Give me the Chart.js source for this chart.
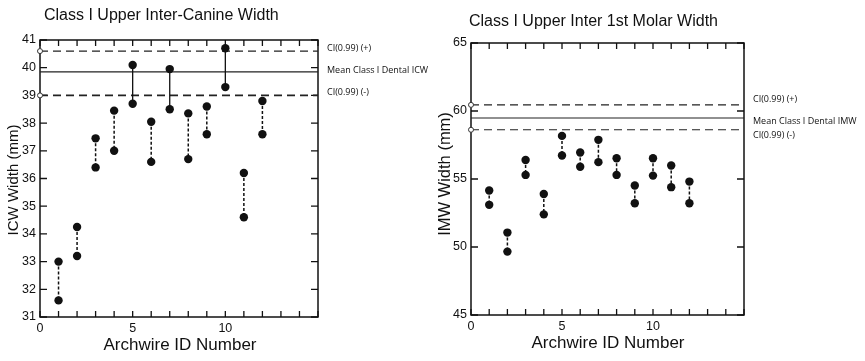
<!DOCTYPE html>
<html><head><meta charset="utf-8">
<script src="https://cdn.jsdelivr.net/npm/chart.js@4/dist/chart.umd.min.js"></script>
<style>
html,body{margin:0;padding:0;background:#fff;}
#wrap{position:relative;width:865px;height:361px;overflow:hidden;}
#c1{position:absolute;left:0;top:0;}
#c2{position:absolute;left:430px;top:0;}
</style></head>
<body><div id="wrap"><canvas id="c1" width="430" height="361"></canvas><canvas id="c2" width="435" height="361"></canvas></div>
<script>
// ---- data ----
const archwireIds = [1,2,3,4,5,6,7,8,9,10,11,12];
const icwUpper = [33.0,34.25,37.45,38.45,40.1,38.05,39.95,38.35,38.6,40.7,36.2,38.8];
const icwLower = [31.6,33.2,36.4,37.0,38.7,36.6,38.5,36.7,37.6,39.3,34.6,37.6];
const icwRef = [40.6, 39.85, 39.0];           // CI+, mean, CI-
const imwUpper = [54.15,51.06,56.4,53.9,58.17,56.95,57.88,56.53,54.52,56.53,55.99,54.81];
const imwLower = [53.1,49.66,55.3,52.4,56.73,55.9,56.24,55.3,53.22,55.25,54.4,53.22];
const imwRef = [60.45, 59.48, 58.62];
const xTickLabels = [0,5,10];
const icwRefLabels = ['CI(0.99) (+)','Mean Class I Dental ICW','CI(0.99) (-)'];
const imwRefLabels = ['CI(0.99) (+)','Mean Class I Dental IMW','CI(0.99) (-)'];
const titles = ['Class I Upper Inter-Canine Width','Class I Upper Inter 1st Molar Width'];
const yTitles = ['ICW Width (mm)','IMW Width (mm)'];
const xTitle = 'Archwire ID Number';

const FONT = "'Liberation Sans', Arial, sans-serif";

function build(canvasId, upper, lower, ref, refLabels, cfg){
  const datasets = [];
  archwireIds.forEach((id,i)=>{
    const solid = upper[i] > ref[2];
    datasets.push({
      data:[{x:id,y:upper[i]},{x:id,y:lower[i]}],
      showLine:true, borderColor:'#111', borderWidth: solid?1.3:1.5,
      borderDash: solid?[]:[3,2],
      pointRadius:4.2, pointBackgroundColor:'#111', pointBorderColor:'#111', pointBorderWidth:0,
      clip:false
    });
  });
  ref.forEach((v,k)=>{
    datasets.push({
      data:[{x:0,y:v},{x:cfg.xmax,y:v}],
      showLine:true, borderColor:'#222', borderWidth: k===1?1.1:cfg.ciWidth[k],
      borderDash: k===1?[]:[8,5],
      pointRadius:[k===1?0:2.5,0], pointBackgroundColor:'#fff', pointBorderColor:'#333', pointBorderWidth:1,
      clip:false
    });
  });

  const framePlugin = {
    id:'frame',
    beforeDatasetsDraw(chart){
      const {ctx, chartArea:a, scales:{x,y}} = chart;
      ctx.save();
      ctx.strokeStyle='#111'; ctx.lineWidth=1.5;
      ctx.strokeRect(a.left,a.top,a.right-a.left,a.bottom-a.top);
      ctx.lineWidth=1.3;
      for(let v=0; v<=cfg.xmax; v+=1){
        const px = x.getPixelForValue(v);
        const L = 6;
        ctx.beginPath();
        ctx.moveTo(px,a.bottom); ctx.lineTo(px,a.bottom-L);
        ctx.moveTo(px,a.top); ctx.lineTo(px,a.top+L);
        ctx.stroke();
      }
      for(let v=cfg.ymin; v<=cfg.ymax; v+=cfg.ystep){
        const py = y.getPixelForValue(v);
        const L = 7;
        ctx.beginPath();
        ctx.moveTo(a.left,py); ctx.lineTo(a.left+L,py);
        ctx.moveTo(a.right,py); ctx.lineTo(a.right-L,py);
        ctx.stroke();
      }
      ctx.restore();
    },
    afterDraw(chart){
      const {ctx, chartArea:a, scales:{y}} = chart;
      ctx.save();
      ctx.fillStyle='#111';
      ctx.textBaseline='middle';
      ctx.font = "16px "+FONT; ctx.textAlign='left';
      ctx.fillText(cfg.title, cfg.titleX, cfg.titleY);
      ctx.font = "17px "+FONT; ctx.textAlign='center';
      ctx.fillText(xTitle, cfg.xlabX, cfg.xlabY);
      ctx.save();
      ctx.translate(cfg.ylabX, cfg.ylabY); ctx.rotate(-Math.PI/2);
      ctx.font = cfg.ylabSize+"px "+FONT;
      ctx.fillText(cfg.yTitle,0,0);
      ctx.restore();
      ctx.font = "9px 'Open Sans', sans-serif"; ctx.textAlign='left';
      refLabels.forEach((t,k)=>{
        ctx.fillText(t, a.right+cfg.refDx, y.getPixelForValue(ref[k])+cfg.refDy[k]);
      });
      ctx.restore();
    }
  };

  return new Chart(document.getElementById(canvasId), {
    type:'scatter',
    data:{datasets},
    options:{
      responsive:false, animation:false,
      layout:{padding:cfg.pad},
      plugins:{legend:{display:false}, tooltip:{enabled:false}},
      scales:{
        x:{type:'linear', min:0, max:cfg.xmax,
           afterFit(s){ s.height = 20; },
           grid:{display:false, drawTicks:false}, border:{display:false},
           ticks:{stepSize:1, autoSkip:false, maxRotation:0, padding:4, color:'#111',
             font:{family:FONT, size:12.5},
             callback:(v)=> xTickLabels.includes(v) ? String(v) : ''}},
        y:{type:'linear', min:cfg.ymin, max:cfg.ymax,
           afterFit(s){ s.width = cfg.yw; },
           grid:{display:false, drawTicks:false}, border:{display:false},
           ticks:{stepSize:cfg.ystep, padding:4, color:'#111', font:{family:FONT, size:12.5}}}
      }
    },
    plugins:[framePlugin]
  });
}

build('c1', icwUpper, icwLower, icwRef, icwRefLabels, {
  xmax:15, ymin:31, ymax:41, ystep:1, yw:40,
  pad:{top:40, right:112, bottom:24, left:0},
  ciWidth:[1.2,1,1.8],
  title:titles[0], titleX:44, titleY:16,
  xlabX:180, xlabY:345, ylabX:14, ylabY:180, ylabSize:15, yTitle:yTitles[0],
  refDx:9, refDy:[-3,-1,-3]
});
build('c2', imwUpper, imwLower, imwRef, imwRefLabels, {
  xmax:15, ymin:45, ymax:65, ystep:5, yw:41,
  pad:{top:43, right:121, bottom:26, left:0},
  ciWidth:[1.2,1,1.2],
  title:titles[1], titleX:39, titleY:22,
  xlabX:178, xlabY:343, ylabX:15, ylabY:174, ylabSize:16.5, yTitle:yTitles[1],
  refDx:9, refDy:[-5,3,6]
});
</script></body></html>
